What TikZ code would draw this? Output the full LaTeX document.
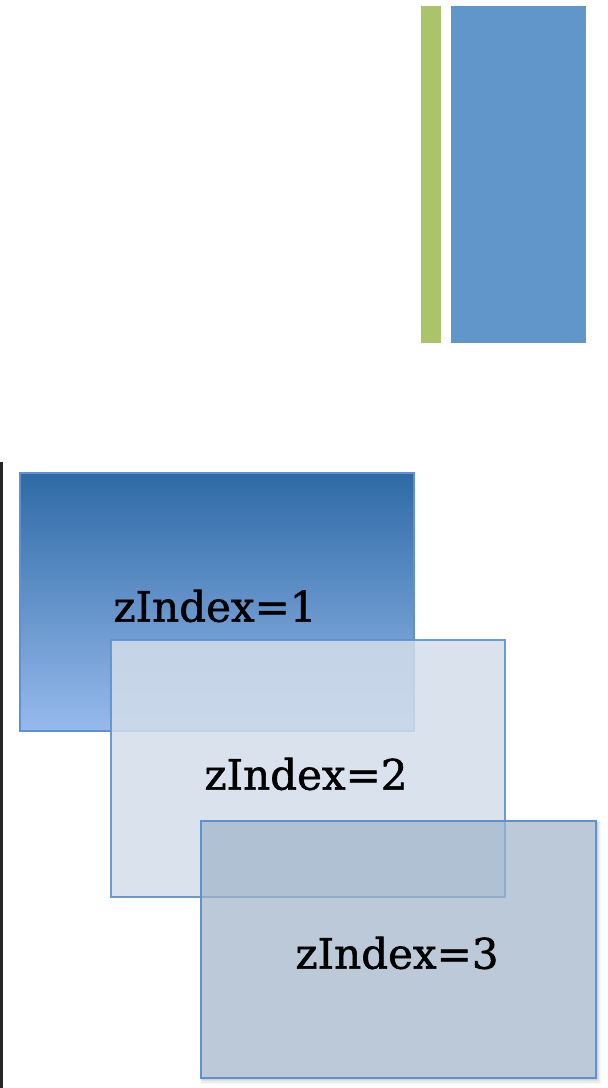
\documentclass[tikz,border=0pt]{standalone}
\usepackage{fontspec}
\setmainfont{DejaVu Serif}
\newfontfamily\zfont[FakeBold=1.3]{DejaVu Serif}
\definecolor{barGreen}{HTML}{ABC46C}
\definecolor{barBlue}{HTML}{6196CA}
\definecolor{edgeBlue}{HTML}{5F92CC}
\definecolor{topBlue}{HTML}{2E6AA6}
\definecolor{botBlue}{HTML}{97BAEC}
\definecolor{fillTwo}{HTML}{D3DDEA}
\definecolor{fillThree}{HTML}{9FB3C8}
\tikzset{
  layerbox/.style={draw=edgeBlue, line width=1.6pt, anchor=north west, inner sep=0pt},
  ztext/.style={font=\zfont\fontsize{42}{48}\selectfont, text=black, inner sep=0pt}
}
\begin{document}
\begin{tikzpicture}[x=1pt,y=-1pt]
\useasboundingbox[fill=white] (0,0) rectangle (608,1088);
% top bars
\fill[barGreen] (421,6) rectangle (441,343);
\fill[barBlue] (451,6) rectangle (586,343);
% left edge line
\fill[black!85] (0,462) rectangle (3,1088);
% box 1
\node[layerbox, top color=topBlue, bottom color=botBlue, minimum width=394pt, minimum height=258pt] (b1) at (19,472) {};
\node[ztext] (t1) at (215,606) {zIndex=1};
% box 2
\node[layerbox, fill=fillTwo, fill opacity=0.85, draw opacity=0.9, minimum width=394pt, minimum height=257pt] (b2) at (110,639) {};
\node[ztext] (t2) at (306,774) {zIndex=2};
% box 3 shadow (outside only)
\begin{scope}[even odd rule]
  \clip (0,0) rectangle (608,1088) (200,820) rectangle (595,1077);
  \foreach \d/\o in {1/0.06,2/0.05,3/0.04,4/0.03} {
    \fill[black, opacity=\o] (202-\d*0.5,822) rectangle (597+\d,1079+\d*1.2);
  }
\end{scope}
% box 3
\node[layerbox, fill=fillThree, fill opacity=0.7, minimum width=395pt, minimum height=257pt] (b3) at (200,820) {};
\node[ztext] (t3) at (397,953) {zIndex=3};
\end{tikzpicture}
\end{document}
